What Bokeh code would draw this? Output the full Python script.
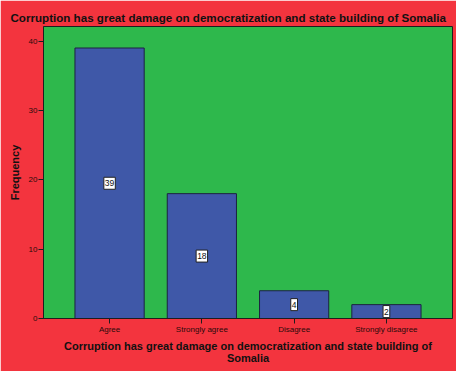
from bokeh.plotting import figure
from bokeh.models import FactorRange, Range1d, ColumnDataSource, FixedTicker
from bokeh.core.properties import value
from bokeh.embed import file_html
from bokeh.resources import INLINE

categories = ["Agree", "Strongly agree", "Disagree", "Strongly disagree"]
frequencies = [39, 18, 4, 2]
y_ticks = [0, 10, 20, 30, 40]
title_text = "Corruption has great damage on democratization and state building of Somalia"
x_label = "Corruption has great damage on democratization and state building of\nSomalia"
y_label = "Frequency"

RED = "#F3343E"
GREEN = "#2EB84C"
BLUE = "#3F58A8"
DARK = "#1e1e1e"
FONT = "Liberation Sans"

src = ColumnDataSource(dict(
    cat=categories,
    freq=frequencies,
    mid=[v / 2 for v in frequencies],
    lab=[str(v) for v in frequencies],
))

p = figure(
    width=456, height=371,
    x_range=FactorRange(factors=categories, range_padding=0.216, range_padding_units="absolute"),
    y_range=Range1d(0, 42.1),
    output_backend="svg", toolbar_location=None,
    min_border_left=43, min_border_right=4, min_border_bottom=53, min_border_top=26,
)
p.background_fill_color = GREEN
p.border_fill_color = RED
p.outline_line_color = DARK
p.outline_line_width = 1
p.grid.visible = False

p.title.text = title_text
p.title.text_font = FONT
p.title.text_font_size = "11.6px"
p.title.text_font_style = "bold"
p.title.text_color = "#111111"
p.title.align = "left"
p.title.offset = -33
p.title.standoff = 6

p.vbar(x="cat", top="freq", width=0.75, source=src,
       fill_color=BLUE, line_color="#1c2340", line_width=1)

p.text(x="cat", y="mid", text="lab", source=src,
       text_align="center", text_baseline="middle",
       text_font=value(FONT), text_font_size="8.5px", text_color="#111111",
       background_fill_color="white", border_line_color="#222222",
       border_line_width=1, padding=(1, 3))

for ax in (p.xaxis[0], p.yaxis[0]):
    ax.axis_line_color = DARK
    ax.major_tick_line_color = DARK
    ax.major_tick_out = 5
    ax.major_tick_in = 0
    ax.minor_tick_line_color = None
    ax.major_label_text_font = FONT
    ax.major_label_text_font_size = "8px"
    ax.major_label_text_color = "#2a0a0a"
    ax.axis_label_text_font = FONT
    ax.axis_label_text_font_size = "11px"
    ax.axis_label_text_font_style = "bold"
    ax.axis_label_text_color = "#111111"

p.yaxis.ticker = FixedTicker(ticks=y_ticks)
p.yaxis.major_label_standoff = 1
p.yaxis.axis_label = y_label
p.yaxis.axis_label_standoff = 5

p.xaxis.axis_label = x_label
p.xaxis.axis_label_text_line_height = 1.0
p.xaxis.major_label_standoff = 1
p.xaxis.axis_label_standoff = 3

open("out.html", "w").write(file_html(p, INLINE))
